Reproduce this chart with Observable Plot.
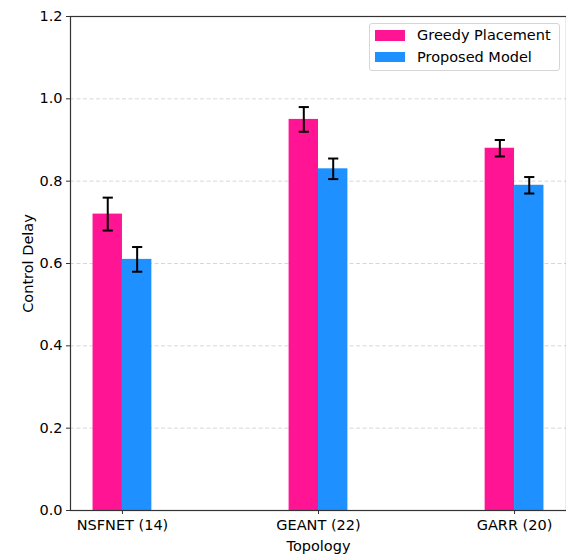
<!DOCTYPE html>
<html>
<head>
<meta charset="utf-8">
<script src="https://cdn.jsdelivr.net/npm/d3@7"></script>
<script src="https://cdn.jsdelivr.net/npm/@observablehq/plot@0.6"></script>
<style>
  html, body { margin: 0; padding: 0; background: #fff; }
  #wrap { position: relative; width: 566px; height: 558px; font-family: "DejaVu Sans", sans-serif; }
  #legend { position: absolute; left: 369px; top: 23px; width: 191px; height: 48px;
    border: 1px solid #d6d6d6; border-radius: 3px; background: rgba(255,255,255,0.8);
    font-size: 14.5px; color: #000; box-sizing: border-box; }
  .row { position: absolute; left: 5px; display: flex; align-items: center; line-height: 17px; }
  .sw { width: 30px; height: 10.5px; margin-right: 12px; }
</style>
</head>
<body>
<div id="wrap"></div>
<script>
const categories = ["NSFNET (14)", "GEANT (22)", "GARR (20)"];
const seriesNames = ["Greedy Placement", "Proposed Model"];
const greedy = [0.72, 0.95, 0.88];
const greedyErr = [0.04, 0.03, 0.02];
const proposed = [0.61, 0.83, 0.79];
const proposedErr = [0.03, 0.025, 0.02];
const yTicks = [0.0, 0.2, 0.4, 0.6, 0.8, 1.0, 1.2];
const colors = ["#FF1493", "#1E90FF"];

const barW = 0.15;
const rows = categories.flatMap((c, i) => [
  {cat: c, i, s: seriesNames[0], v: greedy[i], e: greedyErr[i], a: i - barW, b: i},
  {cat: c, i, s: seriesNames[1], v: proposed[i], e: proposedErr[i], a: i, b: i + barW}
]);
rows.forEach(d => { d.c = (d.a + d.b) / 2; });
const cap = 0.026;
const fs = 14.5;

const chart = Plot.plot({
  width: 566,
  height: 558,
  marginLeft: 70,
  marginRight: 0,
  marginTop: 16,
  marginBottom: 48,
  style: {fontFamily: "DejaVu Sans, sans-serif", fontSize: fs + "px", color: "#000", background: "#fff"},
  x: {domain: [-0.265, 2.265]},
  y: {domain: [0, 1.2]},
  color: {domain: seriesNames, range: colors},
  marks: [
    Plot.gridY([0.2, 0.4, 0.6, 0.8, 1.0], {stroke: "#b0b0b0", strokeOpacity: 0.5, strokeDasharray: "4,2.5", strokeWidth: 1}),
    Plot.rectY(rows, {x1: "a", x2: "b", y1: 0, y2: "v", fill: "s"}),
    Plot.ruleX(rows, {x: "c", y1: d => d.v - d.e, y2: d => d.v + d.e, stroke: "#000", strokeWidth: 2}),
    Plot.link(rows, {x1: d => d.c - cap, x2: d => d.c + cap, y1: d => d.v + d.e, y2: d => d.v + d.e, stroke: "#000", strokeWidth: 2}),
    Plot.link(rows, {x1: d => d.c - cap, x2: d => d.c + cap, y1: d => d.v - d.e, y2: d => d.v - d.e, stroke: "#000", strokeWidth: 2}),
    Plot.axisY({ticks: yTicks, tickFormat: d3.format(".1f"), tickSize: 4, tickPadding: 4, stroke: "#333", fontSize: fs,
      label: "Control Delay", labelAnchor: "center", labelArrow: "none", labelOffset: 48}),
    Plot.axisX({ticks: [0, 1, 2], tickFormat: i => categories[i], tickSize: 4, tickPadding: 5, stroke: "#333", fontSize: fs,
      label: "Topology", labelAnchor: "center", labelArrow: "none", labelOffset: 40}),
    Plot.frame({stroke: "#333", strokeWidth: 1.2})
  ]
});
const wrap = document.getElementById("wrap");
wrap.appendChild(chart);

const lg = document.createElement("div");
lg.id = "legend";
seriesNames.forEach((name, k) => {
  const r = document.createElement("div");
  r.className = "row";
  r.style.top = (3 + k * 21.5) + "px";
  const sw = document.createElement("div");
  sw.className = "sw";
  sw.style.background = colors[k];
  const t = document.createElement("span");
  t.textContent = name;
  r.appendChild(sw); r.appendChild(t);
  lg.appendChild(r);
});
wrap.appendChild(lg);
</script>
</body>
</html>
